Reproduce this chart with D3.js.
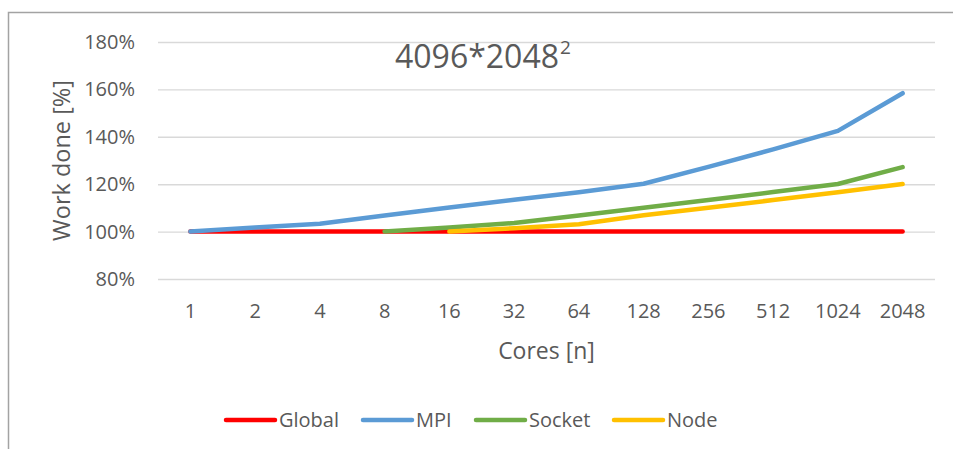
<!DOCTYPE html>
<html>
<head>
<meta charset="utf-8">
<script src="https://cdn.jsdelivr.net/npm/d3@7"></script>
<style>
  html, body { margin: 0; padding: 0; background: #fff; }
  svg { display: block; }
  text { font-family: "Open Sans", sans-serif; fill: #595959; }
</style>
</head>
<body>
<svg id="chart" width="953" height="449"></svg>
<script>
// Core counts (categories on the x axis)
const cores = ["1", "2", "4", "8", "16", "32", "64", "128", "256", "512", "1024", "2048"];

// Work done in percent per strategy; null where a strategy has no run
const globalWork = [100, 100, 100, 100, 100, 100, 100, 100, 100, 100, 100, 100];
const mpiWork    = [100, 101.7, 103.3, 106.8, 110.2, 113.4, 116.6, 120.2, 127.3, 134.7, 142.5, 158.4];
const socketWork = [null, null, null, 100, 101.7, 103.6, 106.8, 110.1, 113.3, 116.7, 120.1, 127.2];
const nodeWork   = [null, null, null, null, 100, 101.4, 103.1, 106.9, 110.1, 113.3, 116.6, 120.1];

const seriesNames  = ["Global", "MPI", "Socket", "Node"];
const seriesColors = ["#FF0000", "#5B9BD5", "#70AD47", "#FFC000"];
const seriesValues = [globalWork, mpiWork, socketWork, nodeWork];

const yTicks = [80, 100, 120, 140, 160, 180];

const svg = d3.select("#chart");

// outer chart frame
svg.append("path")
  .attr("d", "M8.5,449 L8.5,12.5 L953,12.5")
  .attr("fill", "none")
  .attr("stroke", "#A3A3A3")
  .attr("stroke-width", 1.5);

const plot = { left: 158, right: 935, top: 42, bottom: 279 };

const x = d3.scaleBand().domain(cores).range([plot.left, plot.right]);
const y = d3.scaleLinear().domain([80, 180]).range([plot.bottom, plot.top]);
const cx = c => x(c) + x.bandwidth() / 2;

// y axis with gridlines
const yAxis = svg.append("g")
  .attr("transform", `translate(${plot.left},0)`)
  .call(d3.axisLeft(y)
    .tickValues(yTicks)
    .tickSize(-(plot.right - plot.left))
    .tickPadding(23)
    .tickFormat(d => d + "%"));
yAxis.select(".domain").remove();
yAxis.selectAll(".tick line").attr("stroke", "#D9D9D9").attr("stroke-width", 1.4);
yAxis.selectAll(".tick text")
  .style("font-size", "20px")
  .style("font-family", "'Open Sans', sans-serif")
  .attr("fill", "#595959");

// x axis (labels only)
const xAxis = svg.append("g")
  .attr("transform", `translate(0,${plot.bottom})`)
  .call(d3.axisBottom(x).tickSize(0).tickPadding(25));
xAxis.select(".domain").remove();
xAxis.selectAll(".tick text")
  .style("font-size", "20px")
  .style("font-family", "'Open Sans', sans-serif")
  .attr("fill", "#595959");

// series lines
const line = d3.line()
  .defined(d => d.v != null)
  .x(d => cx(d.c))
  .y(d => y(d.v));

seriesValues.forEach((vals, i) => {
  svg.append("path")
    .datum(cores.map((c, j) => ({ c, v: vals[j] })))
    .attr("fill", "none")
    .attr("stroke", seriesColors[i])
    .attr("stroke-width", 4.5)
    .attr("stroke-linecap", "round")
    .attr("stroke-linejoin", "round")
    .attr("d", line);
});

// title with superscript
const title = svg.append("text")
  .attr("x", 395)
  .attr("y", 68)
  .style("font-size", "32px");
title.append("tspan").text("4096*2048");
title.append("tspan")
  .attr("dy", -14)
  .attr("dx", 1)
  .style("font-size", "19px")
  .text("2");

// axis titles
svg.append("text")
  .attr("x", (plot.left + plot.right) / 2)
  .attr("y", 359)
  .attr("text-anchor", "middle")
  .style("font-size", "23px")
  .text("Cores [n]");

svg.append("text")
  .attr("transform", `translate(70,${(plot.top + plot.bottom) / 2}) rotate(-90)`)
  .attr("text-anchor", "middle")
  .style("font-size", "23.5px")
  .text("Work done [%]");

// legend
const legendX = [225, 362, 475, 613];
const legend = svg.append("g");
seriesNames.forEach((name, i) => {
  const g = legend.append("g").attr("transform", `translate(${legendX[i]},420)`);
  g.append("line")
    .attr("x1", 1).attr("x2", 50)
    .attr("stroke", seriesColors[i])
    .attr("stroke-width", 4.5)
    .attr("stroke-linecap", "round");
  g.append("text")
    .attr("x", 54)
    .attr("y", 7)
    .style("font-size", "20px")
    .text(name);
});
</script>
</body>
</html>
